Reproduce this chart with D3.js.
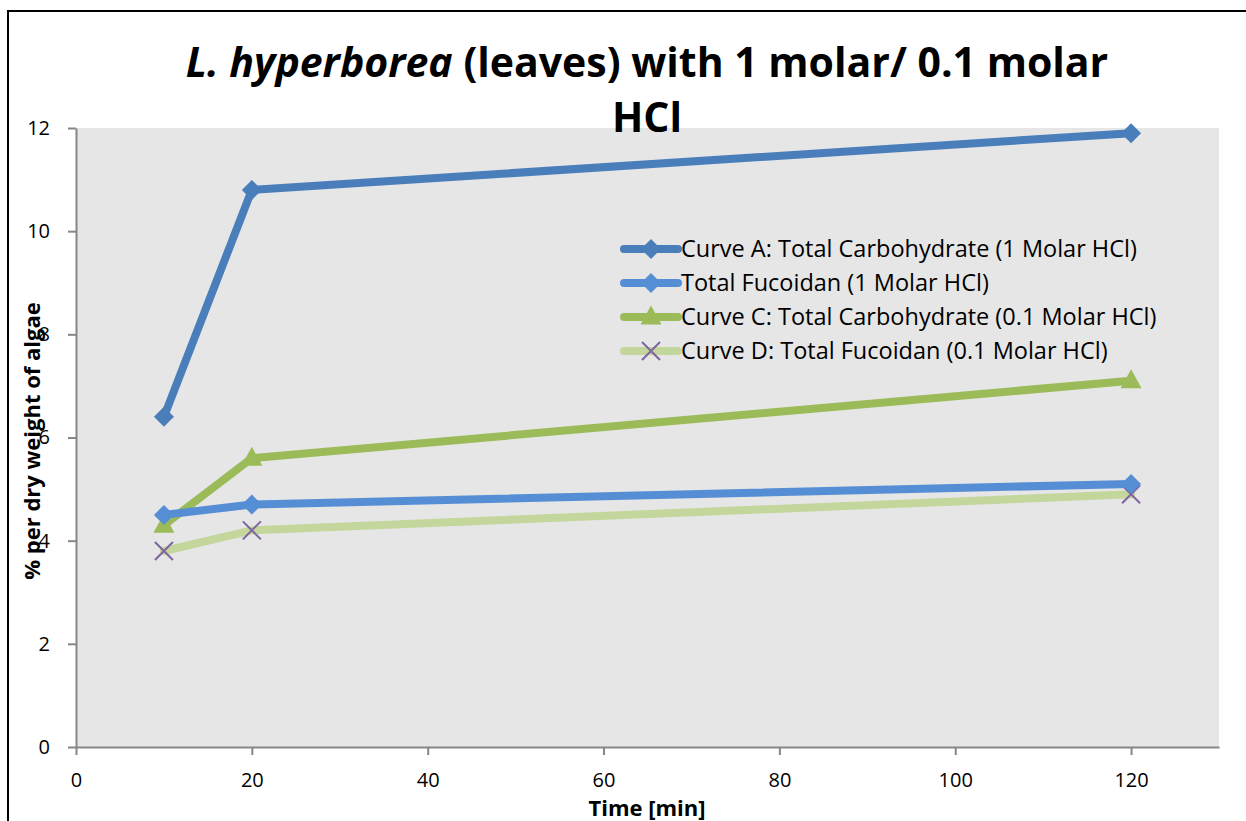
<!DOCTYPE html>
<html>
<head>
<meta charset="utf-8">
<script src="https://cdn.jsdelivr.net/npm/d3@7"></script>
<style>
  html, body { margin: 0; padding: 0; background: #fff; }
  svg { display: block; font-family: "Open Sans", sans-serif; }
</style>
</head>
<body>
<svg id="chart" width="1246" height="821"></svg>
<script>
// Extraction time points (minutes)
const times = [10, 20, 120];

// Series values, % per dry weight of algae
const carbohydrate1M = [6.4, 10.8, 11.9];
const fucoidan1M = [4.5, 4.7, 5.1];
const carbohydrate01M = [4.3, 5.6, 7.1];
const fucoidan01M = [3.8, 4.2, 4.9];

const seriesNames = [
  "Curve A: Total Carbohydrate (1 Molar HCl)",
  "Total Fucoidan (1 Molar HCl)",
  "Curve C: Total Carbohydrate (0.1 Molar HCl)",
  "Curve D: Total Fucoidan (0.1 Molar HCl)"
];

const xTicks = [0, 20, 40, 60, 80, 100, 120];
const yTicks = [0, 2, 4, 6, 8, 10, 12];

const series = [
  { name: seriesNames[0], values: carbohydrate1M, line: "#4a7ebb", marker: "diamond", mfill: "#4a7ebb" },
  { name: seriesNames[1], values: fucoidan1M, line: "#558ed5", marker: "diamond", mfill: "#558ed5" },
  { name: seriesNames[2], values: carbohydrate01M, line: "#9bbb59", marker: "triangle", mfill: "#9bbb59" },
  { name: seriesNames[3], values: fucoidan01M, line: "#c3d69b", marker: "cross", mfill: "#8064a2" }
];

const svg = d3.select("#chart");

// Outer chart frame
svg.append("rect")
  .attr("x", 8).attr("y", 11)
  .attr("width", 1260).attr("height", 830)
  .attr("fill", "#fff").attr("stroke", "#000").attr("stroke-width", 2);

const plot = { left: 76, top: 128, right: 1219, bottom: 747 };

const x = d3.scaleLinear().domain([0, 130]).range([plot.left, plot.right]);
const y = d3.scaleLinear().domain([0, 12]).range([plot.bottom, plot.top]);

// Plot area background
svg.append("rect")
  .attr("x", plot.left).attr("y", plot.top)
  .attr("width", plot.right - plot.left).attr("height", plot.bottom - plot.top)
  .attr("fill", "#e6e6e6");

// Axes
const axisColor = "#868686";
const xAxis = svg.append("g")
  .attr("transform", `translate(0,${plot.bottom})`)
  .call(d3.axisBottom(x).tickValues(xTicks).tickSize(8).tickPadding(18).tickSizeOuter(0));
const yAxis = svg.append("g")
  .attr("transform", `translate(${plot.left},0)`)
  .call(d3.axisLeft(y).tickValues(yTicks).tickSize(8).tickPadding(18).tickSizeOuter(0));

[xAxis, yAxis].forEach(g => {
  g.select(".domain").attr("stroke", axisColor).attr("stroke-width", 2);
  g.selectAll(".tick line").attr("stroke", axisColor).attr("stroke-width", 2);
  g.selectAll(".tick text").attr("fill", "#000").style("font-size", "20px")
    .style("font-family", "'Open Sans', sans-serif");
});
xAxis.selectAll(".tick text").attr("dy", "0.71em");

// Marker shapes
function drawMarker(g, kind, cx, cy, color) {
  if (kind === "diamond") {
    const r = 10;
    g.append("path")
      .attr("d", `M${cx},${cy - r}L${cx + r},${cy}L${cx},${cy + r}L${cx - r},${cy}Z`)
      .attr("fill", color);
  } else if (kind === "triangle") {
    const h = 19, w = 21;
    g.append("path")
      .attr("d", `M${cx},${cy - h * 0.6}L${cx + w / 2},${cy + h * 0.4}L${cx - w / 2},${cy + h * 0.4}Z`)
      .attr("fill", color);
  } else if (kind === "cross") {
    const r = 9;
    g.append("path")
      .attr("d", `M${cx - r},${cy - r}L${cx + r},${cy + r}M${cx - r},${cy + r}L${cx + r},${cy - r}`)
      .attr("stroke", color).attr("stroke-width", 2).attr("fill", "none");
  }
}

const lineGen = d3.line().x((d, i) => x(times[i])).y(d => y(d));

// Series lines, drawn bottom-up so the first series sits on top
const drawOrder = [3, 2, 1, 0];
drawOrder.forEach(si => {
  const s = series[si];
  const g = svg.append("g");
  g.append("path")
    .datum(s.values)
    .attr("d", lineGen)
    .attr("fill", "none")
    .attr("stroke", s.line)
    .attr("stroke-width", 8)
    .attr("stroke-linejoin", "round")
    .attr("stroke-linecap", "round");
  s.values.forEach((v, i) => drawMarker(g, s.marker, x(times[i]), y(v), s.mfill));
});

// Legend
const legend = svg.append("g").attr("transform", "translate(620,249)");
series.forEach((s, i) => {
  const row = legend.append("g").attr("transform", `translate(0,${i * 34})`);
  row.append("line")
    .attr("x1", 4).attr("x2", 58).attr("y1", 0).attr("y2", 0)
    .attr("stroke", s.line).attr("stroke-width", 8).attr("stroke-linecap", "round");
  drawMarker(row, s.marker, 31, 0, s.mfill);
  row.append("text")
    .attr("x", 61).attr("y", 0).attr("dy", "0.35em")
    .style("font-size", "23.5px")
    .text(s.name);
});

// Title
const title = svg.append("text")
  .attr("x", 647).attr("y", 77)
  .attr("text-anchor", "middle")
  .style("font-size", "41px").style("font-weight", "bold");
title.append("tspan").style("font-style", "italic").text("L. hyperborea");
title.append("tspan").text(" (leaves) with 1 molar/ 0.1 molar");
svg.append("text")
  .attr("x", 647).attr("y", 132)
  .attr("text-anchor", "middle")
  .style("font-size", "41px").style("font-weight", "bold")
  .text("HCl");

// Axis titles
svg.append("text")
  .attr("x", 647).attr("y", 816)
  .attr("text-anchor", "middle")
  .style("font-size", "22px").style("font-weight", "bold")
  .text("Time [min]");
svg.append("text")
  .attr("transform", "translate(40,441) rotate(-90)")
  .attr("text-anchor", "middle")
  .style("font-size", "22px").style("font-weight", "bold")
  .text("% per dry weight of algae");
</script>
</body>
</html>
